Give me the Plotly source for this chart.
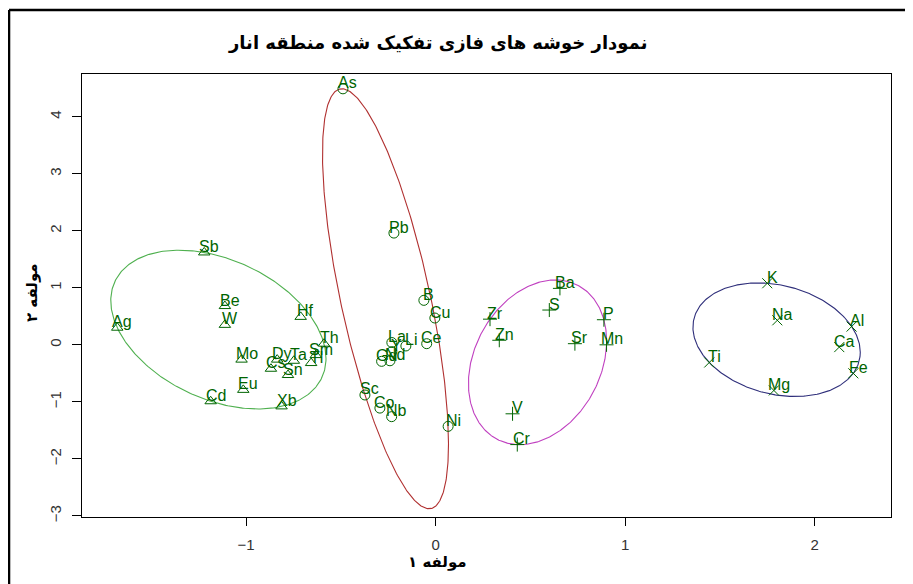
import numpy as np
import plotly.graph_objects as go

# ---- data (component 1, component 2) ----
c1_names = ["As", "Pb", "B", "Cu", "Ce", "La", "Li", "Y", "Gd", "Nd", "Sc", "Co", "Nb", "Ni"]
c1_x = [-0.489, -0.220, -0.062, -0.004, -0.047, -0.231, -0.157, -0.231, -0.285, -0.241, -0.373, -0.294, -0.232, 0.066]
c1_y = [4.49, 1.96, 0.78, 0.47, 0.02, 0.04, -0.02, -0.12, -0.29, -0.28, -0.88, -1.11, -1.26, -1.43]

c2_names = ["Sb", "Be", "W", "Ag", "Hf", "Th", "Sm", "Tl", "Ta", "Dy", "Cs", "Sn", "Mo", "Eu", "Cd", "Xb"]
c2_x = [-1.221, -1.112, -1.112, -1.680, -0.712, -0.589, -0.632, -0.657, -0.748, -0.836, -0.869, -0.779, -1.024, -1.015, -1.187, -0.813]
c2_y = [1.62, 0.68, 0.35, 0.30, 0.49, 0.02, -0.18, -0.32, -0.28, -0.26, -0.42, -0.53, -0.26, -0.79, -0.99, -1.08]

c3_names = ["Ba", "S", "Zr", "Zn", "Sr", "P", "Mn", "V", "Cr"]
c3_x = [0.656, 0.600, 0.287, 0.336, 0.735, 0.888, 0.902, 0.406, 0.431]
c3_y = [0.99, 0.61, 0.45, 0.08, 0.02, 0.44, 0.00, -1.21, -1.75]

c4_names = ["K", "Na", "Al", "Ca", "Ti", "Fe", "Mg"]
c4_x = [1.750, 1.803, 2.195, 2.130, 1.444, 2.204, 1.785]
c4_y = [1.08, 0.43, 0.32, -0.04, -0.31, -0.50, -0.80]

x_ticks = [-1, 0, 1, 2]
y_ticks = [-3, -2, -1, 0, 1, 2, 3, 4]

title_text = "نمودار خوشه های فازی تفکیک شده منطقه انار"
x_title = "مولفه ۱"
y_title = "مولفه ۲"

# ---- styling ----
PT_COL = "#006400"
clusters = [
    (c1_names, c1_x, c1_y, "circle-open", "#b03030"),
    (c2_names, c2_x, c2_y, "triangle-up-open", "#4fb04f"),
    (c3_names, c3_x, c3_y, "cross-thin-open", "#c040c0"),
    (c4_names, c4_x, c4_y, "x-thin-open", "#2e2e7a"),
]


def mvee(P, tol=1e-6):
    """Minimum volume enclosing ellipse (Khachiyan), like cluster::ellipsoidhull."""
    N, d = P.shape
    Q = np.vstack([P.T, np.ones(N)])
    u = np.ones(N) / N
    err = 1.0
    it = 0
    while err > tol and it < 20000:
        X = Q @ np.diag(u) @ Q.T
        M = np.einsum("ij,ji->i", Q.T @ np.linalg.inv(X), Q)
        j = int(np.argmax(M))
        step = (M[j] - d - 1.0) / ((d + 1.0) * (M[j] - 1.0))
        nu = (1 - step) * u
        nu[j] += step
        err = np.linalg.norm(nu - u)
        u = nu
        it += 1
    c = P.T @ u
    cov = P.T @ np.diag(u) @ P - np.outer(c, c)
    return c, cov * d  # (x-c)^T (cov*d)^-1 (x-c) <= 1


fig = go.Figure()
annotations = []
t = np.linspace(0, 2 * np.pi, 361)
for names, xs, ys, sym, ecol in clusters:
    P = np.column_stack([xs, ys])
    c, S = mvee(P)
    L = np.linalg.cholesky(S)
    E = c[:, None] + L @ np.vstack([np.cos(t), np.sin(t)])
    fig.add_trace(go.Scatter(x=E[0], y=E[1], mode="lines",
                             line=dict(color=ecol, width=1.1), hoverinfo="skip", showlegend=False))
    fig.add_trace(go.Scatter(x=xs, y=ys, mode="markers",
                             marker=dict(symbol=sym, size=10, color=PT_COL, line=dict(width=1, color=PT_COL)),
                             showlegend=False))
    for n, xv, yv in zip(names, xs, ys):
        annotations.append(dict(x=xv, y=yv, xref="x", yref="y", text=n, showarrow=False,
                                xshift=5, yshift=6,
                                font=dict(family="Liberation Sans, Arial", size=16, color=PT_COL)))

# titles
annotations.append(dict(x=0.439, y=1.07, xref="paper", yref="paper", text="<b>" + title_text + "</b>",
                        xanchor="center", yanchor="middle", showarrow=False,
                        font=dict(family="DejaVu Sans", size=18, color="black")))
annotations.append(dict(x=0.439, y=-0.1016, xref="paper", yref="paper", text="<b>" + x_title + "</b>",
                        xanchor="center", yanchor="middle", showarrow=False,
                        font=dict(family="DejaVu Sans", size=15, color="black")))
annotations.append(dict(x=-0.0618, y=0.5056, xref="paper", yref="paper", text="<b>" + y_title + "</b>",
                        xanchor="center", yanchor="middle", textangle=-90, showarrow=False,
                        font=dict(family="DejaVu Sans", size=15, color="black")))

# outer frame (left and top edges)
shapes = [
    dict(type="line", xref="paper", yref="paper", x0=-0.0902, x1=1.05, y0=1.1445, y1=1.1445,
         line=dict(color="black", width=2.5)),
    dict(type="line", xref="paper", yref="paper", x0=-0.0902, x1=-0.0902, y0=1.1445, y1=-0.2,
         line=dict(color="black", width=2.5)),
]

axis_common = dict(showgrid=False, zeroline=False, showline=True, mirror=True, linecolor="black",
                   linewidth=1, ticks="outside", tickcolor="black",
                   tickfont=dict(family="Liberation Sans, Arial", size=15, color="#333333"))

# the page body adds an 8px offset, so the figure is 8px smaller and margins shifted
fig.update_layout(
    width=905, height=576,
    margin=dict(l=74, r=22, t=66, b=67),
    paper_bgcolor="white", plot_bgcolor="white",
    xaxis=dict(range=[-1.866, 2.403], tickvals=x_ticks, ticklen=8, ticklabelstandoff=6, **axis_common),
    yaxis=dict(range=[-3.02, 4.75], tickvals=y_ticks, ticklen=9, tickangle=-90, ticklabelstandoff=5,
               **axis_common),
    annotations=annotations,
    shapes=shapes,
    showlegend=False,
)

fig.write_html("out.html")
